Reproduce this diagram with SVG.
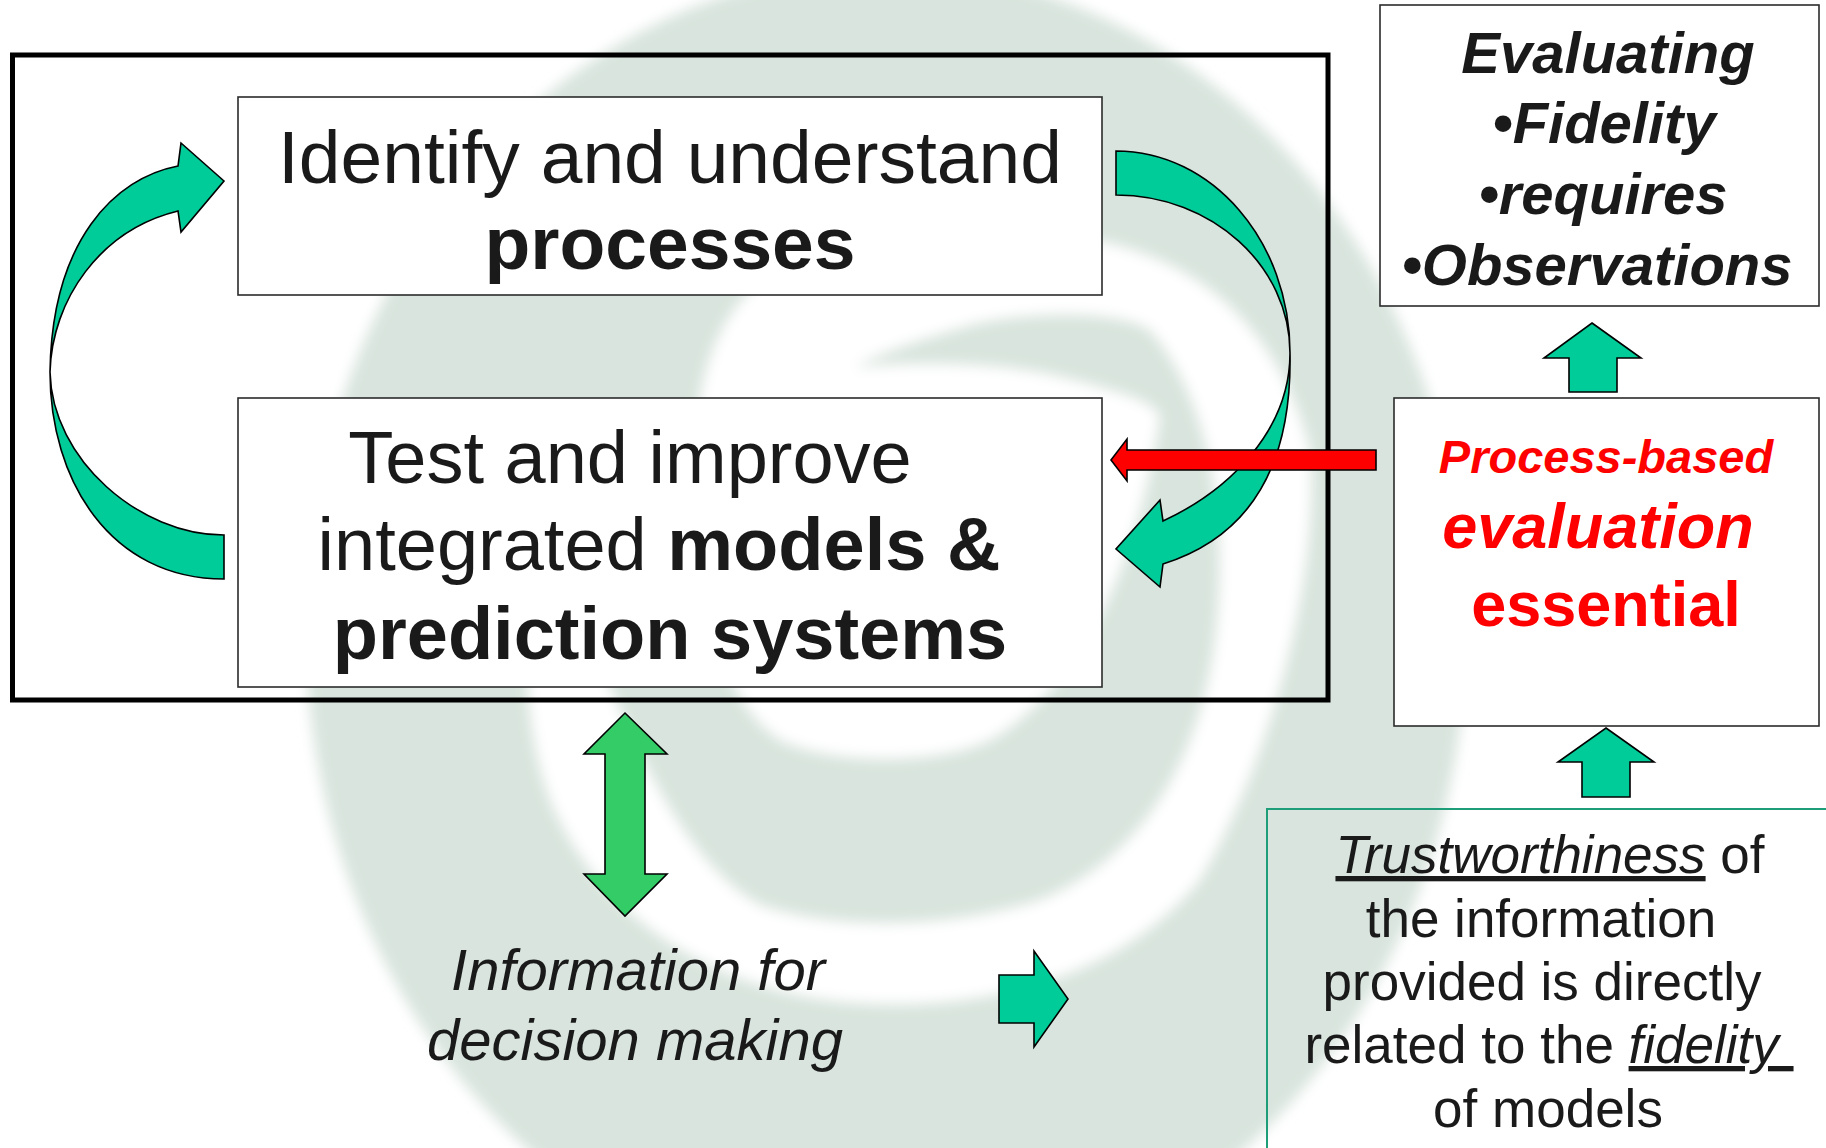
<svg xmlns="http://www.w3.org/2000/svg" width="1826" height="1148" viewBox="0 0 1826 1148">
<defs>
<style>
.t{font-family:"Liberation Sans",Arial,Helvetica,sans-serif;fill:#1a1a1a;text-anchor:middle}
.b{font-weight:bold}
.i{font-style:italic}
.r{fill:#FF0000}
.u{text-decoration:underline}
.box{fill:#fff;stroke:#2b2b2b;stroke-width:1.6}
.teal{fill:#00CC99;stroke:#000;stroke-width:1.6}
.grn{fill:#33CC66;stroke:#000;stroke-width:1.6}
.red{fill:#FF0000;stroke:#000;stroke-width:1.6}
</style>
<filter id="soft" x="-5%" y="-5%" width="110%" height="110%"><feGaussianBlur stdDeviation="7"/></filter>
</defs>
<rect width="1826" height="1148" fill="#fff"/>
<g id="watermark" filter="url(#soft)">
<ellipse cx="886" cy="630" rx="580" ry="660" fill="#D8E4DD"/>
<path fill="#fff" d="M854,368 C900,362 1000,360 1074,380 C1120,392 1150,400 1160,415 C1140,560 1080,690 990,740 C940,765 830,765 780,740 C720,700 700,600 695,500 C692,420 700,340 751,290 C800,240 950,220 1080,238 C1200,255 1280,330 1310,450 C1320,580 1270,760 1200,880 C1110,990 960,1010 860,1003 C720,995 600,920 550,800 C520,720 520,600 545,520 C600,660 660,850 760,905 C830,930 950,930 1040,900 C1140,860 1200,760 1215,640 C1230,520 1210,400 1150,330 C1110,305 1000,315 964,327 C920,340 880,352 854,368 Z"/>
</g>
<g id="frame"><rect x="12.5" y="55" width="1315.5" height="645" fill="none" stroke="#000" stroke-width="5"/></g>
<g id="identify">
<rect class="box" x="238" y="97" width="864" height="198"/>
<text class="t" font-size="75"><tspan x="670" y="183">Identify and understand</tspan><tspan class="b" x="670" y="269">processes</tspan></text>
</g>
<g id="test">
<rect class="box" x="238" y="398" width="864" height="289"/>
<text class="t" font-size="74" x="630" y="483">Test and improve</text>
<text class="t" font-size="74" x="659" y="570">integrated <tspan class="b">models &amp;</tspan></text>
<text class="t b" font-size="74" x="670" y="659">prediction systems</text>
</g>
<g id="evaluating">
<rect class="box" x="1380" y="5" width="439" height="301" stroke-width="2"/>
<text class="t b i" font-size="58"><tspan x="1608" y="73">Evaluating</tspan><tspan x="1604" y="143">•Fidelity</tspan><tspan x="1603" y="214">•requires</tspan><tspan x="1597" y="285">•Observations</tspan></text>
</g>
<g id="process">
<rect class="box" x="1394" y="398" width="425" height="328" stroke-width="2"/>
<text class="t b i r" font-size="47" x="1606" y="473">Process-based</text>
<text class="t b i r" font-size="63" x="1598" y="548">evaluation</text>
<text class="t b r" font-size="63" x="1606" y="626">essential</text>
</g>
<g id="trust">
<rect x="1267" y="809" width="600" height="400" fill="none" stroke="#1E9E78" stroke-width="2"/>
<text class="t" font-size="53"><tspan x="1550" y="873"><tspan class="i u">Trustworthiness</tspan> of</tspan><tspan x="1541" y="937">the information</tspan><tspan x="1542" y="1000">provided is directly</tspan><tspan x="1549" y="1063">related to the <tspan class="i u">fidelity </tspan></tspan><tspan x="1548" y="1127">of models</tspan></text>
</g>
<g id="info">
<text class="t i" font-size="58"><tspan x="638" y="990">Information for</tspan><tspan x="635" y="1060">decision making</tspan></text>
</g>
<g id="connectors">
<path class="teal" d="M224,181 L181,143 L178,166 C115,178 52,240 50,372 C50,480 110,579 224,579 L224,535 C140,535 52,460 50,372 C52,300 100,230 178,211 L181,232 Z"/>
<path class="teal" d="M1116,151 C1212,151 1290,241 1290,353 C1292,460 1255,535 1163,564 L1160,587 L1116,549 L1160,500 L1163,521 C1230,490 1290,430 1290,353 C1290,266 1212,195 1116,195 Z"/>
<path class="red" d="M1111,460 L1127,439 L1127,450 L1376,450 L1376,470 L1127,470 L1127,481 Z"/>
<path class="grn" d="M625,713 L667,754 L645,754 L645,874 L667,874 L625,916 L584,874 L605,874 L605,754 L584,754 Z"/>
<path class="teal" d="M1592,323 L1641,358 L1617,358 L1617,392 L1569,392 L1569,358 L1544,358 Z"/>
<path class="teal" d="M1606,728 L1654,762 L1630,762 L1630,797 L1582,797 L1582,762 L1558,762 Z"/>
<path class="teal" d="M1068,999 L1034,1047 L1034,1023 L999,1023 L999,975 L1034,975 L1034,951 Z"/>
</g>
</svg>
